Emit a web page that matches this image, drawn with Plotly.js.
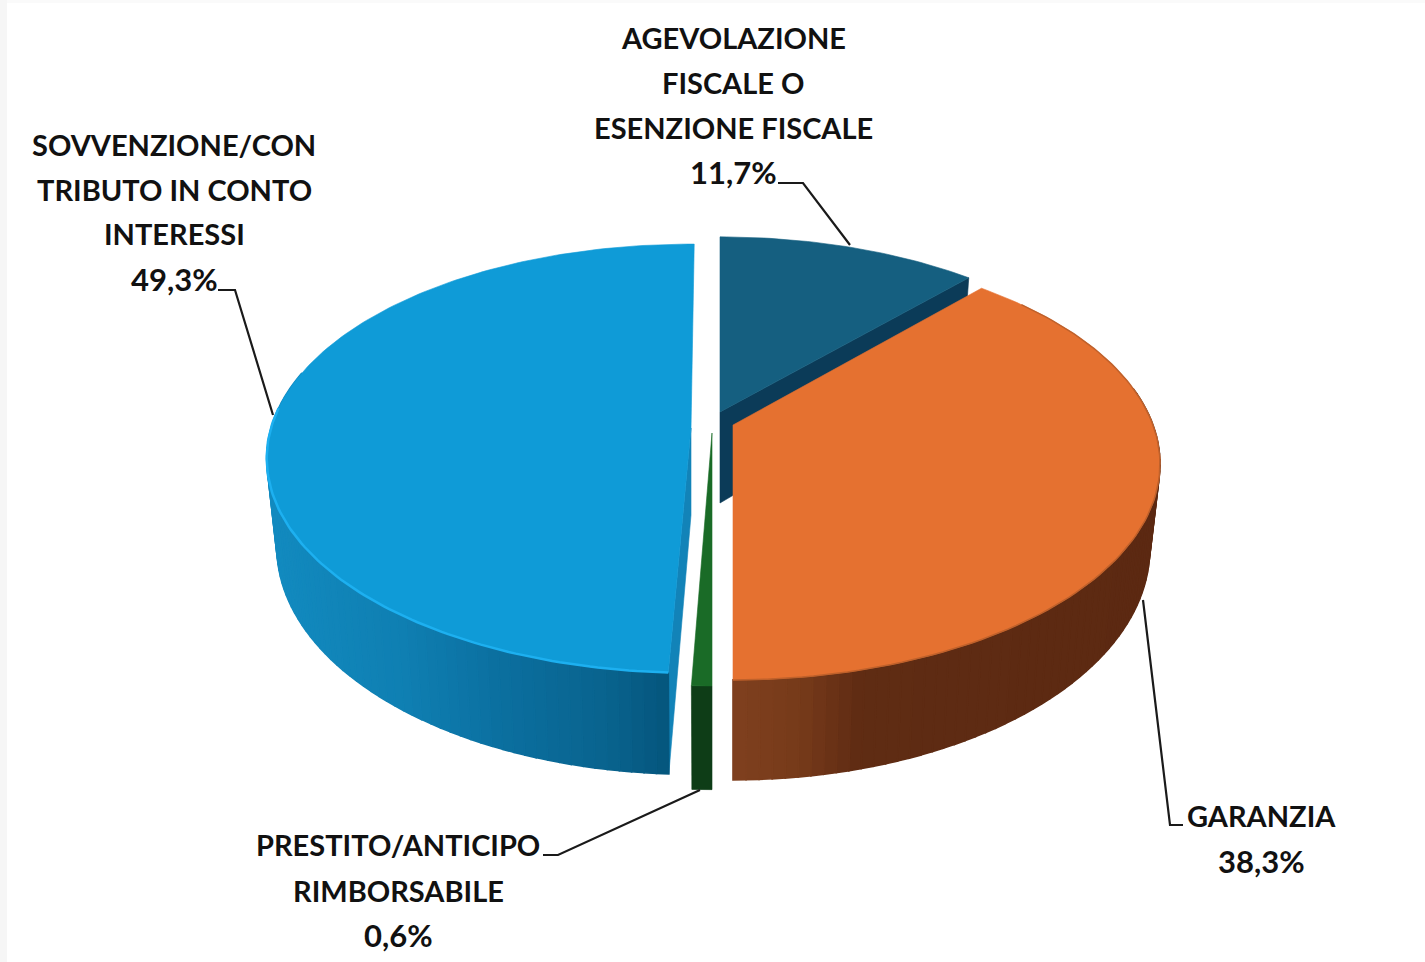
<!DOCTYPE html>
<html><head><meta charset="utf-8">
<script src="https://cdn.plot.ly/plotly-3.0.1.min.js"></script>
<style>html,body{margin:0;padding:0;background:#fff;overflow:hidden}</style>
</head><body><div id="chart" style="width:1425px;height:962px"></div>
<script>
// ---- data ----
var categories = ["AGEVOLAZIONE FISCALE O ESENZIONE FISCALE", "GARANZIA", "PRESTITO/ANTICIPO RIMBORSABILE", "SOVVENZIONE/CONTRIBUTO IN CONTO INTERESSI"];
var shares = [11.7, 38.3, 0.6, 49.3];
var labelLines = [
  ["AGEVOLAZIONE", "FISCALE O", "ESENZIONE FISCALE"],
  ["GARANZIA"],
  ["PRESTITO/ANTICIPO", "RIMBORSABILE"],
  ["SOVVENZIONE/CON", "TRIBUTO IN CONTO", "INTERESSI"]
];

// ---- perspective geometry of each exploded slice, in axis units ----
var geom = [
  {ax:720, ay:412, rx:410, ry:200, k:.142, h:91, rot:0,  face:"#155f80", cut:"#0b3b58", cutAt:"end"},
  {ax:733, ay:425, rx:420, ry:209, k:.18,  h:82, rot:0,  face:"#e57130", stops:[[735,"#7f3f1e"],[800,"#763a1a"],[860,"#5f2c13"],[1160,"#5c2912"]], rim:"#bf612b"},
  {ax:712, ay:433, rx:470, ry:217, k:.142, h:89, rot:0,  face:"#1a6b27", stops:[[680,"#0e3d17"],[720,"#0e3d17"]]},
  {ax:691, ay:428, rx:420, ry:210, k:.142, h:87, rot:.5, face:"#0f9bd7", cut:"#1283b8", cutAt:"start", stops:[[270,"#128abf"],[400,"#0f7fb2"],[500,"#0b6f9f"],[600,"#09648f"],[670,"#05557c"]], rim:"#1db0f0", rimFrom:275}
];
var bottomScale = 0.976;
var labelPos = [
  {x:733, y:[37,82,127], py:172},
  {x:1261, y:[815], py:861},
  {x:398, y:[844,890], py:935},
  {x:174, y:[144,189,233], py:279}
];
var leaders = [
  "M778,183 L803,183 L850,245",
  "M1183,825 L1170,825 L1143,600",
  "M543,855 L558,855 L700,790",
  "M218,290 L235,290 L273,415"
];

// ---- projection ----
function rim(g, deg, bottom) {
  var t = (deg + g.rot) * Math.PI / 180, u = Math.sin(t), v = Math.cos(t), d = 1 + g.k * v;
  var X = g.rx * u / d, Y = -g.ry * v / d;
  if (bottom) return [g.ax + bottomScale * X, g.ay + Y + g.h / d];
  return [g.ax + X, g.ay + Y];
}
function hexMix(stops, x) {
  if (x <= stops[0][0]) return stops[0][1];
  for (var i = 1; i < stops.length; i++) {
    if (x <= stops[i][0]) {
      var a = stops[i-1], b = stops[i], f = (x - a[0]) / (b[0] - a[0]), c = [];
      for (var j = 1; j < 7; j += 2) {
        var p = parseInt(a[1].substr(j, 2), 16), q = parseInt(b[1].substr(j, 2), 16);
        c.push(Math.round(p + (q - p) * f));
      }
      return "rgb(" + c.join(",") + ")";
    }
  }
  return stops[stops.length-1][1];
}
function poly(xs, ys, col, name, w) {
  return {type:"scatter", mode:"lines", x:xs.concat([xs[0]]), y:ys.concat([ys[0]]), fill:"toself",
    fillcolor:col, line:{color:col, width:w || .6}, hoverinfo:"text", text:name, showlegend:false};
}

var traces = [], annotations = [], cum = 0;
var spans = shares.map(function (s) { var a = cum; cum += s; return [a * 3.6, cum * 3.6]; });
spans[3][1] = 360;

var order = [0, 3, 2, 1]; // back to front
order.forEach(function (i) {
  var g = geom[i], a0 = spans[i][0], a1 = spans[i][1], name = categories[i];
  if (g.cut) {
    var deg = g.cutAt === "end" ? a1 : a0, o = rim(g, deg, false), b = rim(g, deg, true);
    traces.push(poly([g.ax, o[0], b[0], g.ax], [g.ay, o[1], b[1], g.ay + g.h], g.cut, name));
  }
  if (g.stops) {
    var n = Math.max(1, Math.round((a1 - a0) / 1.5));
    for (var s = 0; s < n; s++) {
      var d0 = a0 + (a1 - a0) * s / n, d1 = a0 + (a1 - a0) * (s + 1) / n;
      if (g.cutAt === "start" && d0 > 285) continue;
      if (i === 1 && d1 < 80) continue;
      var t0 = rim(g, d0), t1 = rim(g, d1), b0 = rim(g, d0, true), b1 = rim(g, d1, true);
      traces.push(poly([t0[0], t1[0], b1[0], b0[0]], [t0[1], t1[1], b1[1], b0[1]], hexMix(g.stops, (t0[0] + t1[0]) / 2), name, n > 1 ? 1.6 : .6));
    }
  }
  var fx = [g.ax], fy = [g.ay], m = Math.max(4, Math.round(a1 - a0));
  for (var q = 0; q <= m; q++) {
    var p = rim(g, a0 + (a1 - a0) * q / m);
    fx.push(p[0]); fy.push(p[1]);
  }
  traces.push(poly(fx, fy, g.face, name + " " + shares[i].toFixed(1).replace(".", ",") + "%"));
  if (g.rim) {
    var rx = [], ry = [], from = g.rimFrom ? a0 : 50, to = g.rimFrom || a1;
    for (var w = 0; w <= 100; w++) {
      var pr = rim(g, from + (to - from) * w / 100);
      rx.push(pr[0]); ry.push(pr[1]);
    }
    traces.push({type:"scatter", mode:"lines", x:rx, y:ry, line:{color:g.rim, width:g.rimFrom ? 2.5 : 1.5}, hoverinfo:"skip", showlegend:false});
  }
});

function addText(x, y, t, size) {
  annotations.push({xref:"x", yref:"y", x:x, y:y, text:"<b>" + t + "</b>", showarrow:false, xanchor:"center", yanchor:"middle",
    font:{family:"Lato, sans-serif", size:size, color:"#111111"}});
}
labelLines.forEach(function (lines, i) {
  lines.forEach(function (l, j) { addText(labelPos[i].x, labelPos[i].y[j], l, 29); });
  addText(labelPos[i].x, labelPos[i].py, shares[i].toFixed(1).replace(".", ",") + "%", 31);
});

var shapes = leaders.map(function (p) {
  return {type:"path", xref:"x", yref:"y", path:p, line:{color:"#1a1a1a", width:2.2}};
});
shapes.push({type:"rect", xref:"x", yref:"y", x0:0, x1:7, y0:0, y1:962, layer:"below", fillcolor:"#f6f6f6", line:{width:0}});
shapes.push({type:"rect", xref:"x", yref:"y", x0:7, x1:1425, y0:0, y1:3, layer:"below", fillcolor:"#fafafa", line:{width:0}});

Plotly.newPlot("chart", traces, {
  width:1425, height:962, margin:{l:0, r:0, t:0, b:0}, paper_bgcolor:"#fff", plot_bgcolor:"#fff", showlegend:false,
  xaxis:{range:[0,1425], visible:false, fixedrange:true},
  yaxis:{range:[962,0], visible:false, fixedrange:true},
  annotations:annotations, shapes:shapes
}, {displayModeBar:false});
</script></body></html>
